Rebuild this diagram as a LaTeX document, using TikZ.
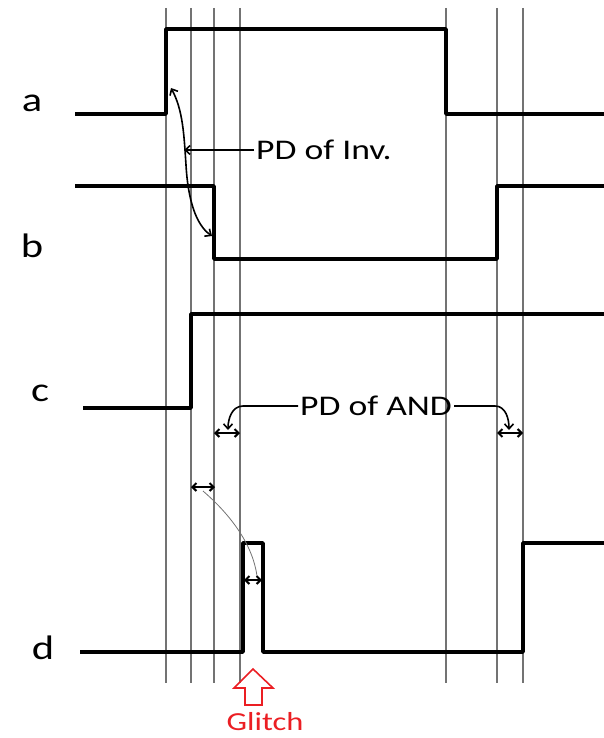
\documentclass[tikz,border=0pt]{standalone}
\usepackage{fontspec}
\setmainfont{Carlito}[FakeStretch=1.25]
\usetikzlibrary{arrows.meta, positioning}
\definecolor{glitchred}{RGB}{235,30,35}

\begin{document}
\begin{tikzpicture}[x=1pt, y=-1pt,
    wave/.style={line width=3.8pt, line join=round},
    gridline/.style={black!55, line width=1.1pt},
    sig/.style={font=\fontsize{34}{36}\selectfont, inner sep=0pt},
    pdtext/.style={font=\fontsize{28.5}{30}\selectfont, inner sep=2pt},
    pd/.style={line width=1.6pt, -{Straight Barb[length=5pt,width=9pt]}},
    span/.style={line width=2pt, {Straight Barb[length=4pt,width=8pt]}-{Straight Barb[length=4pt,width=8pt]}}]
    \useasboundingbox (0,0) rectangle (604,738);
    % time marks
    \foreach \x in {166,191,214,240,446,497,523} {
        \draw[gridline] (\x,8) -- (\x,683);
    }
    % signal names
    \node[sig] (na) at (32,103) {a};
    \node[sig] (nb) at (32,246) {b};
    \node[sig] (nc) at (40,393) {c};
    \node[sig] (nd) at (43,648) {d};
    % waveforms
    \draw[wave] (75,114) -- (166,114) -- (166,29) -- (446,29) -- (446,114) -- (604,114);
    \draw[wave] (75,186) -- (214,186) -- (214,259) -- (497,259) -- (497,186) -- (604,186);
    \draw[wave] (83,408) -- (191,408) -- (191,314) -- (604,314);
    \draw[wave] (80,652) -- (243,652) -- (243,543) -- (263,543) -- (263,652) -- (523,652) -- (523,543) -- (604,543);
    % delay of the inverter
    \coordinate (aRise) at (171,88);
    \coordinate (bFall) at (212,236);
    \node[pdtext, anchor=west] (pdinv) at (254,150) {PD of Inv.};
    \draw[pd] (pdinv.west) -- (184,150);
    \draw[line width=1.6pt, {Straight Barb[length=5pt,width=9pt]}-{Straight Barb[length=5pt,width=9pt]}]
        (aRise) .. controls (183,110) and (184,135) .. (186,165)
        .. controls (188,200) and (196,225) .. (bFall);
    % delay of the AND gate
    \node[pdtext, anchor=west] (pdand) at (298,406) {PD of AND};
    \draw[pd] (pdand.west) -- (243,406) to[out=180, in=90] (228,430);
    \draw[pd] (pdand.east) -- (495,406) to[out=0, in=90] (509,430);
    \draw[span] (214,433) -- (240,433);
    \draw[span] (497,433) -- (523,433);
    % glitch width
    \draw[span] (191,487) -- (215,487);
    \draw[span] (244,580) -- (262,580);
    \draw[black!55, line width=0.8pt] (203,491) .. controls (225,510) and (252,540) .. (257,576);
    % glitch marker
    \node[font=\fontsize{26}{28}\selectfont, text=glitchred, inner sep=0pt] (glitch) at (265,722) {Glitch};
    \draw[glitchred, line width=1.6pt, line join=miter]
        (253,669) -- (273,688) -- (262,688) -- (262,705) -- (245,705) -- (245,688) -- (234,688) -- cycle;
\end{tikzpicture}
\end{document}
